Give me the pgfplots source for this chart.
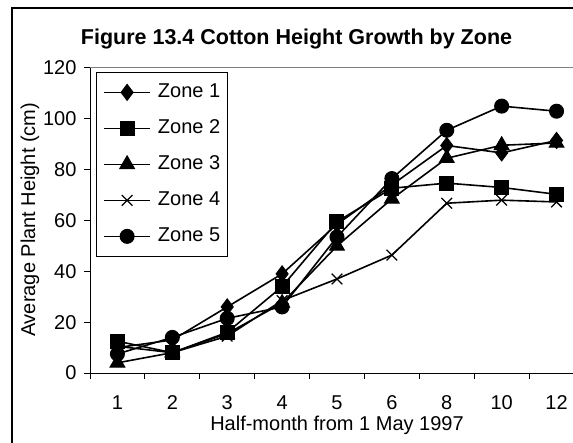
\documentclass[border=0pt]{standalone}
\usepackage{fontspec}
\setmainfont{Liberation Sans}
\usepackage{pgfplots}
\usepackage{pgfplotstable}
\pgfplotsset{compat=1.18}
\pgfplotstableread{
x z1 z2 z3 z4 z5
0 10 12.5 4 10.5 7.5
1 13 8 8 8 14
2 26 16 15.5 14.5 21.5
3 39 34 27.5 28.5 26
4 58.5 59.5 50 37 53.5
5 74 72.7 68.5 46.4 76.5
6 89.5 74.7 84.5 66.8 95.5
7 86.6 73 89.6 68 105
8 91.5 70.3 90.5 67.3 103
}\datatable
\begin{document}
\begin{tikzpicture}[x=1pt,y=1pt]
\useasboundingbox (0,0) rectangle (573,442);
\fill[white] (0,0) rectangle (573,442);
\draw[line width=2.5pt] (12,-10) -- (12,434) -- (600,434);
\node[font=\fontsize{21.5}{24}\selectfont\bfseries, anchor=base] at (296.5,397) {Figure 13.4 Cotton Height Growth by Zone};
\begin{axis}[
  at={(90pt,69pt)}, anchor=south west,
  scale only axis, width=494pt, height=305pt,
  xmin=-0.5, xmax=8.5, ymin=0, ymax=120,
  axis lines=left, axis line style={-, line width=1pt, black},
  tick align=outside, tick pos=left,
  major tick length=6pt,
  ytick={0,20,...,120},
  xtick={0,...,8}, xticklabels={1,2,3,4,5,6,8,10,12},
  major x tick style={draw=none},
  extra x ticks={-0.5,0.5,...,8.5}, extra x tick labels={},
  extra x tick style={major x tick style={draw=black, line width=1pt}},
  every tick/.style={black, line width=1pt},
  /pgf/number format/assume math mode=true,
  tick label style={font=\fontsize{20}{22}\selectfont},
  xticklabel style={yshift=-13pt},
  yticklabel style={xshift=-4pt},
  xlabel={Half-month from 1 May 1997},
  ylabel={Average Plant Height (cm)},
  label style={font=\fontsize{20}{22}\selectfont},
  xlabel style={at={(axis description cs:0.5,-0.180)}, anchor=base, yshift=-3pt},
  ylabel style={at={(axis description cs:-0.1215,0.502)}, anchor=center},
  after end axis/.code={\draw[gray, line width=1pt] (rel axis cs:0,1) -- (rel axis cs:1,1) -- (rel axis cs:1,0);},
  legend cell align=left,
  legend style={at={(0.012,0.987)}, anchor=north west, draw=black, line width=0.8pt,
    font=\fontsize{20}{22}\selectfont,
    inner xsep=7pt, inner ysep=11pt, /tikz/row sep=18pt,
    nodes={inner sep=0pt, text height=14pt, text depth=4pt},
    /tikz/every odd column/.append style={column sep=7pt}},
  legend image code/.code={\draw[mark repeat=2,mark phase=2] plot coordinates {(0pt,0pt)(23pt,0pt)(46pt,0pt)};},
  every axis plot/.append style={black, line width=1.6pt, mark options={solid, line width=1pt}},
]
\addplot[mark=diamond*, mark size=8pt] table[x=x,y=z1] {\datatable};
\addplot[mark=square*, mark size=7pt] table[x=x,y=z2] {\datatable};
\addplot[mark=triangle*, mark size=8.5pt] table[x=x,y=z3] {\datatable};
\addplot[mark=x, mark size=7.5pt, mark options={line width=1.3pt}] table[x=x,y=z4] {\datatable};
\addplot[mark=*, mark size=7pt] table[x=x,y=z5] {\datatable};
\legend{Zone 1,Zone 2,Zone 3,Zone 4,Zone 5}
\end{axis}
\end{tikzpicture}
\end{document}
